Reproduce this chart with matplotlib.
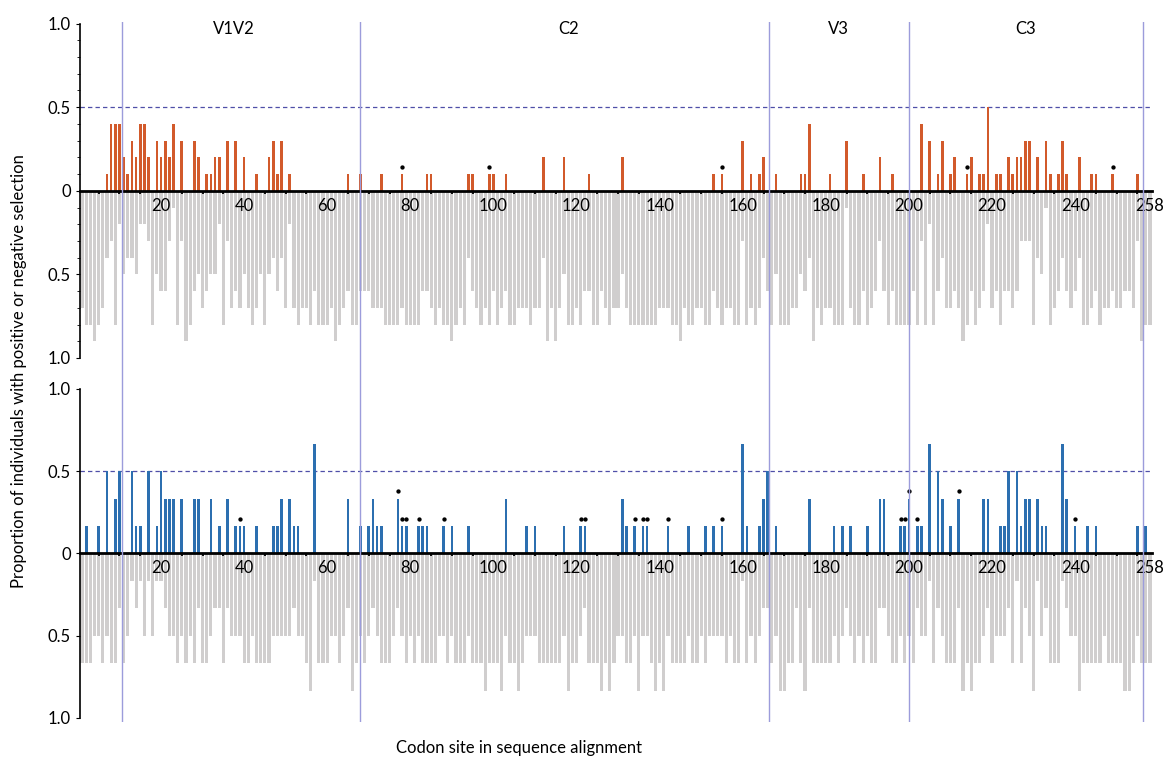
import numpy as np
import matplotlib.pyplot as plt
from matplotlib.ticker import FixedLocator, FuncFormatter, MultipleLocator

plt.rcParams['font.family'] = ['Lato', 'DejaVu Sans']

n_sites = 258
sites = np.arange(1, n_sites + 1)

# ---- top panel: 10 individuals ----
top_n = 10
top_pos_sites = [7, 8, 9, 10, 11, 12, 13, 14, 15, 16, 17, 19, 20, 21, 22, 23, 25, 28, 29, 31,
                 32, 33, 34, 36, 38, 40, 43, 46, 47, 48, 49, 51, 65, 68, 73, 78, 84, 85, 94, 95,
                 99, 100, 103, 112, 117, 123, 131, 153, 155, 160, 162, 164, 165, 168, 174, 175, 176, 181, 185, 189,
                 193, 196, 203, 205, 207, 208, 210, 211, 214, 215, 217, 218, 219, 221, 222, 224, 225, 226, 227, 228,
                 229, 231, 233, 234, 236, 237, 238, 241, 244, 245, 249, 255]
top_pos_count = [1, 4, 4, 4, 2, 1, 3, 2, 4, 4, 2, 3, 2, 3, 2, 4, 3, 3, 2, 1,
                 1, 2, 2, 3, 3, 2, 1, 2, 3, 1, 3, 1, 1, 1, 1, 1, 1, 1, 1, 1,
                 1, 1, 1, 2, 2, 1, 2, 1, 1, 3, 1, 1, 2, 1, 1, 1, 4, 1, 3, 1,
                 2, 1, 4, 3, 1, 3, 1, 2, 1, 2, 1, 1, 5, 1, 1, 2, 1, 2, 2, 3,
                 3, 2, 3, 1, 1, 3, 1, 2, 1, 1, 1, 1]
top_neg_count = [7, 8, 8, 9, 8, 7, 4, 3, 8, 2, 5, 4, 4, 5, 2, 2, 3, 8, 5, 6,
                 6, 3, 1, 8, 3, 9, 8, 6, 5, 7, 6, 5, 5, 2, 8, 3, 7, 6, 7, 5,
                 7, 8, 7, 5, 8, 5, 4, 6, 4, 7, 2, 7, 8, 7, 7, 8, 6, 8, 8, 8,
                 7, 9, 8, 7, 6, 8, 8, 6, 6, 6, 7, 7, 7, 8, 8, 8, 8, 7, 8, 8,
                 8, 8, 6, 6, 7, 8, 7, 8, 8, 9, 8, 7, 8, 4, 6, 7, 8, 7, 8, 6,
                 8, 7, 6, 8, 8, 7, 7, 7, 8, 7, 7, 4, 9, 7, 9, 7, 5, 8, 8, 7,
                 8, 6, 6, 8, 8, 6, 7, 8, 7, 7, 5, 7, 8, 8, 8, 8, 8, 8, 8, 7,
                 7, 7, 8, 8, 9, 7, 8, 8, 7, 7, 8, 8, 6, 7, 8, 7, 7, 8, 8, 3,
                 8, 7, 8, 7, 4, 6, 8, 5, 8, 8, 8, 7, 7, 5, 6, 4, 9, 7, 8, 7,
                 7, 8, 8, 8, 1, 7, 8, 8, 6, 8, 7, 6, 3, 6, 8, 6, 8, 8, 8, 8,
                 6, 8, 3, 8, 2, 8, 6, 4, 7, 7, 6, 7, 9, 8, 6, 8, 7, 6, 2, 7,
                 6, 8, 6, 6, 7, 6, 3, 3, 3, 8, 4, 5, 1, 8, 7, 6, 4, 6, 7, 6,
                 4, 8, 8, 7, 6, 8, 7, 7, 6, 7, 7, 6, 6, 7, 3, 9, 8, 8]
top_dot_sites = [78, 99, 155, 214, 249]

# ---- bottom panel: 6 individuals ----
bot_n = 6
bot_pos_sites = [2, 5, 7, 9, 10, 13, 14, 15, 17, 19, 20, 21, 22, 23, 25, 28, 29, 32, 34, 36,
                 38, 39, 40, 43, 47, 48, 49, 51, 52, 53, 57, 65, 68, 70, 71, 72, 73, 77, 78, 79,
                 82, 83, 84, 88, 90, 94, 103, 108, 110, 117, 121, 122, 131, 132, 134, 136, 137, 142, 147, 151,
                 153, 155, 160, 161, 164, 165, 166, 168, 176, 182, 184, 186, 190, 193, 194, 198, 199, 200, 202, 203,
                 205, 207, 208, 210, 212, 218, 219, 222, 223, 224, 226, 227, 228, 229, 231, 232, 233, 237, 238, 240,
                 243, 245, 255, 257]
bot_pos_count = [1, 1, 3, 2, 3, 3, 1, 1, 3, 1, 3, 2, 2, 2, 2, 2, 2, 2, 1, 2,
                 1, 1, 1, 1, 1, 1, 2, 2, 1, 1, 4, 2, 1, 1, 2, 1, 1, 2, 1, 1,
                 1, 1, 1, 1, 1, 1, 2, 1, 1, 1, 1, 1, 2, 1, 1, 1, 1, 1, 1, 1,
                 1, 1, 4, 1, 1, 2, 3, 1, 2, 1, 1, 1, 1, 2, 2, 1, 1, 2, 1, 1,
                 4, 3, 2, 1, 2, 2, 2, 1, 1, 3, 3, 1, 2, 2, 2, 1, 1, 4, 2, 1,
                 1, 1, 1, 1]
bot_neg_count = [4, 4, 4, 3, 3, 4, 3, 4, 4, 2, 4, 3, 1, 2, 1, 3, 1, 3, 1, 1,
                 2, 3, 3, 4, 3, 4, 3, 4, 2, 4, 4, 3, 2, 2, 4, 2, 3, 3, 3, 4,
                 4, 3, 4, 4, 4, 4, 3, 3, 3, 3, 3, 2, 3, 3, 4, 5, 1, 4, 4, 4,
                 3, 3, 4, 3, 2, 5, 4, 3, 4, 3, 2, 3, 4, 4, 4, 3, 2, 3, 4, 3,
                 4, 3, 4, 4, 4, 4, 3, 3, 4, 3, 4, 4, 4, 3, 4, 4, 4, 5, 4, 4,
                 4, 5, 3, 4, 4, 5, 4, 3, 3, 3, 4, 4, 4, 4, 4, 4, 3, 5, 4, 4,
                 3, 2, 4, 4, 4, 5, 4, 5, 4, 3, 3, 4, 4, 3, 5, 3, 3, 4, 5, 4,
                 5, 3, 4, 4, 4, 4, 3, 4, 4, 3, 4, 3, 3, 3, 3, 4, 3, 4, 4, 1,
                 4, 3, 4, 3, 2, 2, 4, 3, 5, 5, 4, 4, 2, 4, 5, 2, 4, 4, 4, 4,
                 4, 3, 4, 3, 2, 3, 4, 3, 4, 3, 4, 4, 2, 2, 3, 4, 4, 3, 4, 3,
                 4, 2, 3, 3, 1, 4, 2, 3, 4, 4, 4, 2, 5, 4, 5, 4, 4, 3, 2, 4,
                 3, 3, 3, 2, 4, 1, 4, 2, 3, 5, 1, 3, 2, 4, 4, 4, 1, 2, 3, 3,
                 5, 4, 4, 4, 4, 4, 3, 4, 4, 4, 4, 5, 5, 4, 3, 4, 4, 4]
bot_dot_sites = [39, 77, 78, 79, 82, 88, 121, 122, 134, 136, 137, 142, 155, 198, 199, 200, 202, 212, 240]

# ---- regions / axis labels ----
region_names = ['V1V2', 'C2', 'V3', 'C3']
region_label_x = [37.5, 118, 183, 228]
region_bounds = [10.6, 67.8, 166.3, 200.1, 256.3]
xtick_sites = [20, 40, 60, 80, 100, 120, 140, 160, 180, 200, 220, 240, 258]

orange = '#D25A2B'
blue = '#2C6FB0'
grey = '#D0CECE'


def draw_panel(ax, pos_sites, pos_count, neg_count, dot_sites, n, color, minor_y):
    pos = np.zeros(n_sites)
    pos[np.array(pos_sites) - 1] = np.array(pos_count) / n
    neg = np.array(neg_count) / n

    ax.bar(sites, -neg, width=0.76, color=grey, zorder=1)
    ax.bar(sites, pos, width=0.64, color=color, zorder=2)
    ax.axhline(0.5, color='#4F4FA8', lw=0.9, ls=(0, (3.5, 2.5)), zorder=1.5)
    d = np.array(dot_sites)
    ax.plot(d, pos[d - 1] + 0.045, 'o', ms=2.1, color='black', zorder=3)

    ax.set_xlim(0.5, n_sites + 0.5)
    ax.set_ylim(-1, 1)
    for s in ['top', 'right']:
        ax.spines[s].set_visible(False)
    ax.spines['bottom'].set_position(('data', 0))
    ax.spines['bottom'].set_linewidth(2)
    ax.spines['left'].set_linewidth(1.2)

    ax.xaxis.set_major_locator(FixedLocator(xtick_sites))
    ax.xaxis.set_minor_locator(FixedLocator(list(range(5, n_sites + 1, 5))))
    ax.tick_params(axis='x', which='major', length=0, pad=5, labelsize=12)
    ax.tick_params(axis='x', which='minor', length=2.5, width=1.3)
    ax.set_yticks([-1, -0.5, 0, 0.5, 1])
    ax.yaxis.set_major_formatter(FuncFormatter(lambda v, p: '0' if v == 0 else f'{abs(v):.1f}'))
    if minor_y:
        ax.yaxis.set_minor_locator(MultipleLocator(0.1))
    ax.tick_params(axis='y', which='major', length=3, labelsize=12)
    ax.tick_params(axis='y', which='minor', length=2)


fig = plt.figure(figsize=(11.65, 7.66), dpi=100)
left, width = 80 / 1165, 1072 / 1165
ax_top = fig.add_axes([left, 1 - 358 / 766, width, 334.4 / 766])
ax_bot = fig.add_axes([left, 1 - 718 / 766, width, 329.2 / 766])

draw_panel(ax_top, top_pos_sites, top_pos_count, top_neg_count, top_dot_sites, top_n, orange, True)
draw_panel(ax_bot, bot_pos_sites, bot_pos_count, bot_neg_count, bot_dot_sites, bot_n, blue, False)

# region boundary lines across both panels
ax_ov = fig.add_axes([left, 1 - 722 / 766, width, 700 / 766])
ax_ov.set_xlim(0.5, n_sites + 0.5)
ax_ov.set_ylim(0, 1)
ax_ov.axis('off')
ax_ov.patch.set_alpha(0)
for b in region_bounds:
    ax_ov.axvline(b, color='#9C9CDB', lw=1.0)
for name, xl in zip(region_names, region_label_x):
    ax_ov.text(xl, 0.99, name, ha='center', va='center', fontsize=12)

fig.text(0.016, 0.515, 'Proportion of individuals with positive or negative selection',
         rotation=90, ha='center', va='center', fontsize=12)
fig.text(0.4455, 0.023, 'Codon site in sequence alignment', ha='center', va='center', fontsize=12)

fig.savefig('out.png', dpi=100)
